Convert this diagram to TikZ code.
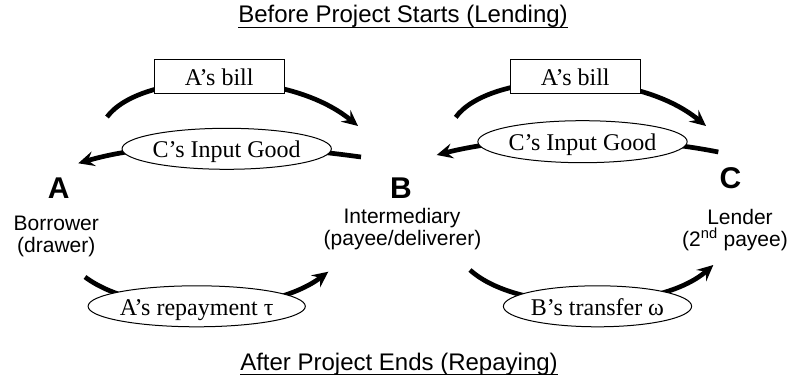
\documentclass[tikz,border=0pt]{standalone}
\usepackage{fontspec}
\setmainfont{Liberation Serif}
\setsansfont{Liberation Sans}
\usetikzlibrary{arrows.meta,shapes.geometric}
\begin{document}
\begin{tikzpicture}[x=1pt,y=-1pt,
  flow/.style={line width=4.7pt,-{Stealth[length=16pt,width=15pt,inset=6pt]}},
  lbl/.style={font=\fontsize{24}{28}\selectfont,text height=18pt,text depth=0pt,inner sep=0pt,fill=white,draw,line width=1pt},
  billbox/.style={lbl,rectangle,minimum width=130pt,minimum height=34pt},
  oval/.style={lbl,ellipse,minimum height=41pt},
  ttl/.style={font=\sffamily\fontsize{24}{28}\selectfont,inner sep=0pt,anchor=base},
  uline/.style={line width=1.2pt},
  big/.style={font=\sffamily\bfseries\fontsize{30}{36}\selectfont,inner sep=0pt,anchor=base},
  role/.style={font=\sffamily\fontsize{21}{25}\selectfont,inner sep=0pt,anchor=base}]
\useasboundingbox (0,0) rectangle (787,380);

% titles
\node[ttl] (t1) at (403,22.7) {Before Project Starts (Lending)};
\draw[uline] ([yshift=-4.6pt]t1.base west) -- ([yshift=-4.6pt]t1.base east);
\node[ttl] (t2) at (399,370.7) {After Project Ends (Repaying)};
\draw[uline] ([yshift=-3.8pt]t2.base west) -- ([yshift=-3.8pt]t2.base east);

% parties
\node[big] (A) at (58.7,198.3) {A};
\node[role] (A1) at (56.3,230) {Borrower};
\node[role] (A2) at (56.3,252.5) {(drawer)};
\node[big] (B) at (401,198.3) {B};
\node[role] (B1) at (402,223.3) {Intermediary};
\node[role] (B2) at (402.5,245.8) {(payee/deliverer)};
\node[big] (C) at (730.5,188.3) {C};
\node[role] (C1) at (740,224) {Lender};
\node[role] (C2) at (735,246.5) {(2\textsuperscript{nd} payee)};

% connector end points
\coordinate (s1) at (107,117);   \coordinate (e1) at (358,126);
\coordinate (s2) at (361,157);   \coordinate (e2) at (78.3,163.3);
\coordinate (s3) at (455.7,117.3); \coordinate (e3) at (706,126);
\coordinate (s4) at (718.3,152); \coordinate (e4) at (436.7,155);
\coordinate (s5) at (85,277);    \coordinate (e5) at (328.3,271.7);
\coordinate (s6) at (470,270);   \coordinate (e6) at (713.3,265);

% connectors
\draw[flow] (s1) .. controls (140,72) and (285,66) .. (e1);
\draw[flow] (s2) .. controls (281,146) and (168,137) .. (e2);
\draw[flow] (s3) .. controls (488.5,72) and (633.5,66) .. (e3);
\draw[flow] (s4) .. controls (638,136) and (522,133) .. (e4);
\draw[flow] (s5) .. controls (140,318) and (270,316) .. (e5);
\draw[flow] (s6) .. controls (520,315) and (660,312) .. (e6);

% labels on connectors
\node[billbox] (bill1) at (219.2,76.3) {A’s bill};
\node[oval,minimum width=184pt] (good1) at (226.7,148.8) {C’s Input Good};
\node[billbox] (bill2) at (575.3,76.3) {A’s bill};
\node[oval,minimum width=185pt,minimum height=42pt] (good2) at (582.5,141.7) {C’s Input Good};
\node[oval,minimum width=210pt] (repay) at (196.7,306.3) {A’s repayment τ};
\node[oval,minimum width=188pt] (transfer) at (597.5,306.3) {B’s transfer ω};
\end{tikzpicture}
\end{document}
